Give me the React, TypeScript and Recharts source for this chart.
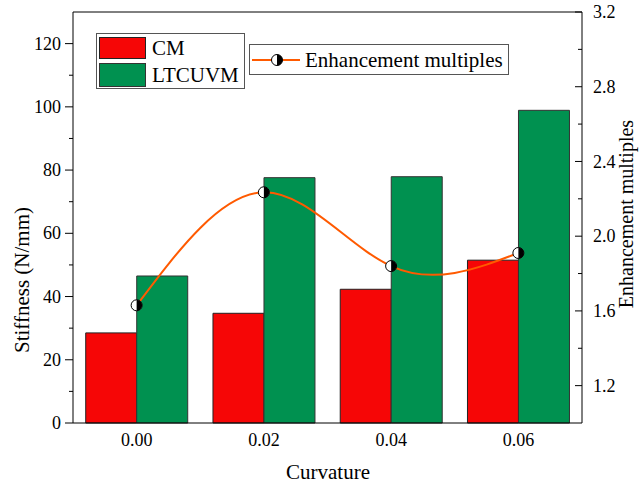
import React from "react";
import {
  Bar,
  ComposedChart,
  Line,
  ReferenceLine,
  XAxis,
  YAxis,
} from "recharts";

const curvatures = ["0.00", "0.02", "0.04", "0.06"];
const cmStiffness = [28.5, 34.7, 42.3, 51.5];
const ltcuvmStiffness = [46.5, 77.6, 77.9, 98.9];
const enhancement = [1.63, 2.235, 1.84, 1.91];

const leftMajor = [0, 20, 40, 60, 80, 100, 120];
const leftMinor = [10, 30, 50, 70, 90, 110];
const rightMajor = [1.2, 1.6, 2.0, 2.4, 2.8, 3.2];
const rightMinor = [1.4, 1.8, 2.2, 2.6, 3.0];

const data = curvatures.map((c, i) => ({
  curvature: c,
  cm: cmStiffness[i],
  ltcuvm: ltcuvmStiffness[i],
  enh: enhancement[i],
}));

const FONT = "Liberation Serif";
const serif = { fontFamily: FONT };
const RED = "#f60606";
const GREEN = "#009150";
const ORANGE = "#ff5a00";

const HalfDot = (props: any) => {
  const { cx, cy } = props;
  if (cx == null || cy == null) return null;
  const r = 5.5;
  return (
    <g>
      <circle cx={cx} cy={cy} r={r} fill="#fff" stroke="#000" strokeWidth={1} />
      <path
        d={`M${cx},${cy - r} A${r},${r} 0 0 1 ${cx},${cy + r} Z`}
        fill="#000"
      />
    </g>
  );
};

const LeftTick = (props: any) => {
  const { x, y, payload } = props;
  const major = leftMajor.includes(payload.value);
  const edge = x + 12;
  return (
    <g>
      <line x1={edge - (major ? 8 : 4)} x2={edge} y1={y} y2={y} stroke="#000" />
      {major && (
        <text x={x} y={y} dy="0.34em" textAnchor="end" fontSize={18} style={serif} fill="#000">
          {payload.value}
        </text>
      )}
    </g>
  );
};

const RightTick = (props: any) => {
  const { x, y, payload } = props;
  const major = rightMajor.some((v) => Math.abs(v - payload.value) < 1e-6);
  const edge = x - 11;
  return (
    <g>
      <line x1={edge - (major ? 7 : 4)} x2={edge} y1={y} y2={y} stroke="#000" />
      {major && (
        <text x={x} y={y} dy="0.34em" textAnchor="start" fontSize={18} style={serif} fill="#000">
          {payload.value.toFixed(1)}
        </text>
      )}
    </g>
  );
};

const XTick = (props: any) => {
  const { x, y, payload } = props;
  return (
    <text x={x} y={y} dy="0.71em" textAnchor="middle" fontSize={18} style={serif} fill="#000">
      {payload.value}
    </text>
  );
};

export default function App() {
  return (
    <div style={{ position: "absolute", left: 0, top: 0, width: 639, height: 484, background: "#fff" }}>
      <ComposedChart
        width={639}
        height={484}
        data={data}
        margin={{ top: 12, right: 0, bottom: 0, left: 0 }}
        barCategoryGap="10%"
        barGap={0}
      >
        <XAxis
          dataKey="curvature"
          height={61}
          tickLine={false}
          tickSize={0}
          tickMargin={10}
          axisLine={{ stroke: "#000" }}
          tick={<XTick />}
        />
        <YAxis
          yAxisId="left"
          width={73}
          domain={[0, 130]}
          ticks={[...leftMajor, ...leftMinor].sort((a, b) => a - b)}
          interval={0}
          tickLine={false}
          tickSize={0}
          tickMargin={12}
          axisLine={{ stroke: "#000" }}
          tick={<LeftTick />}
        />
        <YAxis
          yAxisId="right"
          orientation="right"
          width={57}
          domain={[1.0, 3.2]}
          ticks={[...rightMajor, ...rightMinor].sort((a, b) => a - b)}
          interval={0}
          tickLine={false}
          tickSize={0}
          tickMargin={11}
          axisLine={{ stroke: "#000" }}
          tick={<RightTick />}
        />
        <ReferenceLine yAxisId="left" y={130} stroke="#000" />
        <Bar yAxisId="left" dataKey="cm" name="CM" fill={RED} stroke="#222" strokeWidth={1} isAnimationActive={false} />
        <Bar yAxisId="left" dataKey="ltcuvm" name="LTCUVM" fill={GREEN} stroke="#333" strokeWidth={1} isAnimationActive={false} />
        <Line
          yAxisId="right"
          type="natural"
          dataKey="enh"
          name="Enhancement multiples"
          stroke={ORANGE}
          strokeWidth={2}
          dot={<HalfDot />}
          activeDot={false}
          isAnimationActive={false}
        />
      </ComposedChart>

      <svg
        width={639}
        height={484}
        style={{ position: "absolute", left: 0, top: 0, pointerEvents: "none" }}
      >
        <text x={22} y={280} transform="rotate(-90 22 280)" textAnchor="middle" dy="0.34em" fontSize={21} style={serif} fill="#000">
          Stiffness (N/mm)
        </text>
        <text x={626} y={214} transform="rotate(-90 626 214)" textAnchor="middle" dy="0.34em" fontSize={20} style={serif} fill="#000">
          Enhancement multiples
        </text>
        <text x={328} y={472} textAnchor="middle" dy="0.34em" fontSize={21} style={serif} fill="#000">
          Curvature
        </text>

        <rect x={96.5} y={33.5} width={148} height={55} fill="#fff" stroke="#555" strokeWidth={1} />
        <rect x={99.5} y={37.5} width={46} height={21} fill={RED} stroke="#222" />
        <rect x={99.5} y={63.5} width={46} height={23} fill={GREEN} stroke="#333" />
        <text x={152} y={48} dy="0.34em" fontSize={21} style={serif} fill="#000">CM</text>
        <text x={152} y={75} dy="0.34em" fontSize={21} style={serif} fill="#000">LTCUVM</text>

        <rect x={249.5} y={44.5} width={259} height={30} fill="#fff" stroke="#555" strokeWidth={1} />
        <line x1={252} x2={300} y1={60} y2={60} stroke={ORANGE} strokeWidth={2} />
        <HalfDot cx={277} cy={60} />
        <text x={305} y={60} dy="0.34em" fontSize={21} style={serif} fill="#000">Enhancement multiples</text>
      </svg>
    </div>
  );
}
